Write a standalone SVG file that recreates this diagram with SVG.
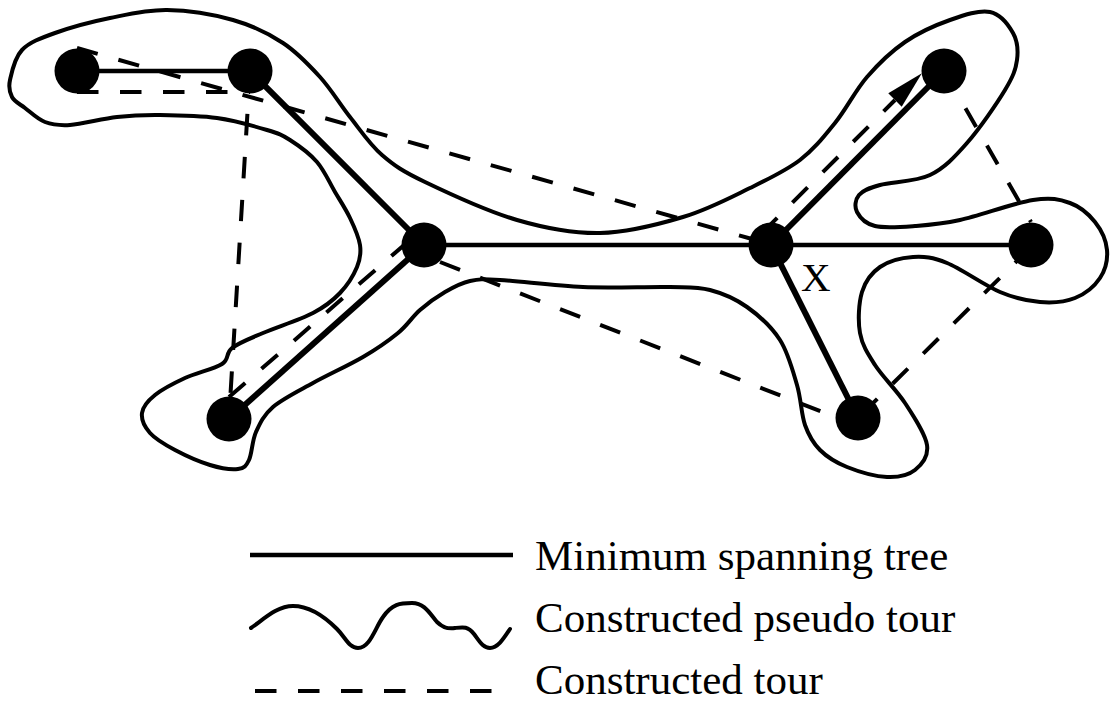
<svg xmlns="http://www.w3.org/2000/svg" width="1114" height="705" viewBox="0 0 1114 705">
<defs>
<style>
.mst{stroke:#000;stroke-width:4.5;fill:none}
.mstk{stroke:#000;stroke-width:6;fill:none}
.tour{stroke:#000;stroke-width:4;fill:none;stroke-dasharray:21.5 21.5}
.pseudo{stroke:#000;stroke-width:4;fill:none;stroke-linejoin:round;stroke-linecap:round}
.node{fill:#000}
.lbl{font-family:"Liberation Serif","Times New Roman",serif;fill:#000}
</style>
<marker id="arrow" markerUnits="userSpaceOnUse" markerWidth="40" markerHeight="20" refX="0" refY="9.5" orient="auto" overflow="visible">
<path d="M0,0 L38,9.5 L0,19 Z" fill="#000"/>
</marker>
</defs>
<rect width="1114" height="705" fill="#fff"/>

<g id="pseudo-tour">
<path class="pseudo" d="M10,80 C11.7,72.2 14.5,57.8 22,50 C29.5,42.2 40.3,38.3 55,33 C69.7,27.7 91.3,21.8 110,18 C128.7,14.2 146.5,9.7 167,10 C187.5,10.3 213.7,14.5 233,20 C252.3,25.5 268.5,33.5 283,43 C297.5,52.5 308.8,64.7 320,77 C331.2,89.3 339.7,104 350,117 C360.3,130 369.5,144.2 382,155 C394.5,165.8 402.5,171.2 425,182 C447.5,192.8 487.8,211.5 517,220 C546.2,228.5 572.3,233.5 600,233 C627.7,232.5 658,224.5 683,217 C708,209.5 730.5,197.5 750,188 C769.5,178.5 785.8,170.8 800,160 C814.2,149.2 823.8,136.8 835,123 C846.2,109.2 855.3,90.5 867,77 C878.7,63.5 891.2,51.5 905,42 C918.8,32.5 935.8,25 950,20 C964.2,15 979.5,9.8 990,12 C1000.5,14.2 1008.5,25 1013,33 C1017.5,41 1018.3,50.5 1017,60 C1015.7,69.5 1013.3,76.2 1005,90 C996.7,103.8 979.5,128.8 967,143 C954.5,157.2 944.5,168 930,175 C915.5,182 891.8,181.7 880,185 C868.2,188.3 862.8,190.5 859,195 C855.2,199.5 854.3,206.8 857,212 C859.7,217.2 865.3,223.7 875,226 C884.7,228.3 900.8,227 915,226 C929.2,225 940.3,224.3 960,220 C979.7,215.7 1014.7,202.8 1033,200 C1051.3,197.2 1059.7,199.3 1070,203 C1080.3,206.7 1088.8,214.2 1095,222 C1101.2,229.8 1106.2,240.7 1107,250 C1107.8,259.3 1105.3,270 1100,278 C1094.7,286 1085,294 1075,298 C1065,302 1052.5,303 1040,302 C1027.5,301 1015.5,298.5 1000,292 C984.5,285.5 961.5,268.8 947,263 C932.5,257.2 924.2,256.3 913,257 C901.8,257.7 888.5,261.2 880,267 C871.5,272.8 865.3,281 862,292 C858.7,303 857.8,320.8 860,333 C862.2,345.2 867.5,353.3 875,365 C882.5,376.7 896.3,389.7 905,403 C913.7,416.3 925.3,433.8 927,445 C928.7,456.2 921.7,464.7 915,470 C908.3,475.3 898.3,477.5 887,477 C875.7,476.5 858.2,471.5 847,467 C835.8,462.5 827,457 820,450 C813,443 808.8,435.8 805,425 C801.2,414.2 801.2,399.2 797,385 C792.8,370.8 788.3,353 780,340 C771.7,327 758.7,315.3 747,307 C735.3,298.7 722.8,293.3 710,290 C697.2,286.7 691.2,287.5 670,287 C648.8,286.5 611.3,288.2 583,287 C554.7,285.8 518.8,281 500,280 C481.2,279 479.2,279 470,281 C460.8,283 453.3,287.2 445,292 C436.7,296.8 427.8,303.2 420,310 C412.2,316.8 407.5,325.2 398,333 C388.5,340.8 377.2,348.7 363,357 C348.8,365.3 328,374.7 313,383 C298,391.3 282.5,398.8 273,407 C263.5,415.2 260,423.2 256,432 C252,440.8 252,453.8 249,460 C246,466.2 244.5,468.2 238,469 C231.5,469.8 220.5,468.2 210,465 C199.5,461.8 185,455.3 175,450 C165,444.7 155.5,439.2 150,433 C144.5,426.8 141.2,419.3 142,413 C142.8,406.7 147.8,400.8 155,395 C162.2,389.2 173.8,383.2 185,378 C196.2,372.8 214.2,369 222,364 C229.8,359 225.2,353.2 232,348 C238.8,342.8 249.5,338.8 263,333 C276.5,327.2 300.2,319.7 313,313 C325.8,306.3 332.7,300.7 340,293 C347.3,285.3 353.7,275 357,267 C360.3,259 361.2,253.2 360,245 C358.8,236.8 354.2,226.8 350,218 C345.8,209.2 340.5,201.3 335,192 C329.5,182.7 324.5,170.7 317,162 C309.5,153.3 298.3,145.3 290,140 C281.7,134.7 279.2,133.7 267,130 C254.8,126.3 234.8,120.5 217,118 C199.2,115.5 176.7,115.2 160,115 C143.3,114.8 132,115.3 117,117 C102,118.7 82,124.2 70,125 C58,125.8 52.5,124.8 45,122 C37.5,119.2 30.5,112.2 25,108 C19.5,103.8 14.5,101.7 12,97 C9.5,92.3 8.3,87.8 10,80 Z"/>
</g>

<g id="connectors">
<g id="tour">
<line class="tour" x1="77" y1="48" x2="752" y2="239"/>
<line class="tour" x1="77" y1="92" x2="250" y2="92"/>
<line class="tour" x1="250" y1="71" x2="229" y2="419"/>
<line class="tour" x1="229" y1="397" x2="418" y2="233"/>
<line class="tour" x1="440" y1="262" x2="848" y2="422"/>
<line class="tour" x1="862" y1="414" x2="1020" y2="258"/>
<line class="tour" x1="944" y1="71" x2="1031" y2="222"/>
<line class="tour" x1="762" y1="233" x2="895" y2="100" marker-end="url(#arrow)"/>
</g>
<g id="mst">
<line class="mst" x1="77" y1="71" x2="250" y2="71"/>
<line class="mstk" x1="250" y1="71" x2="424" y2="245"/>
<line class="mst" x1="424" y1="245" x2="771" y2="245"/>
<line class="mstk" x1="424" y1="245" x2="229" y2="419"/>
<line class="mstk" x1="771" y1="245" x2="944" y2="71"/>
<line class="mst" x1="771" y1="245" x2="1031" y2="245"/>
<line class="mstk" x1="771" y1="245" x2="858" y2="418"/>
</g>
</g>

<g id="node-A"><circle class="node" cx="77" cy="71" r="22.5"/></g>
<g id="node-B"><circle class="node" cx="250" cy="71" r="22.5"/></g>
<g id="node-C"><circle class="node" cx="424" cy="245" r="22.5"/></g>
<g id="node-D"><circle class="node" cx="771" cy="245" r="22.5"/></g>
<g id="node-E"><circle class="node" cx="944" cy="71" r="22.5"/></g>
<g id="node-F"><circle class="node" cx="1031" cy="245" r="22.5"/></g>
<g id="node-G"><circle class="node" cx="229" cy="419" r="22.5"/></g>
<g id="node-H"><circle class="node" cx="858" cy="418" r="22.5"/></g>

<text class="lbl" x="801" y="291" font-size="41">X</text>

<g id="legend">
<line class="mst" x1="250" y1="555" x2="513" y2="555"/>
<path class="pseudo" stroke-width="4.5" d="M251,628 C264,619 277,606 293,606 C310,606 326,618 337,629 C346,638 349,648 358,648 C370,648 375,628 383,617 C392,604 400,603 412,603 C425,603 430,614 437,622 C443,628 448,629 455,628 C463,627 468,626 474,634 C480,642 483,648 490,648 C498,648 504,638 510,629"/>
<line class="tour" stroke-width="4.7" stroke-dasharray="21.7 21.6" x1="255" y1="691" x2="493" y2="691"/>
<text class="lbl" x="535" y="570" font-size="43">Minimum spanning tree</text>
<text class="lbl" x="535" y="632" font-size="43">Constructed pseudo tour</text>
<text class="lbl" x="535" y="694" font-size="43">Constructed tour</text>
</g>
</svg>
